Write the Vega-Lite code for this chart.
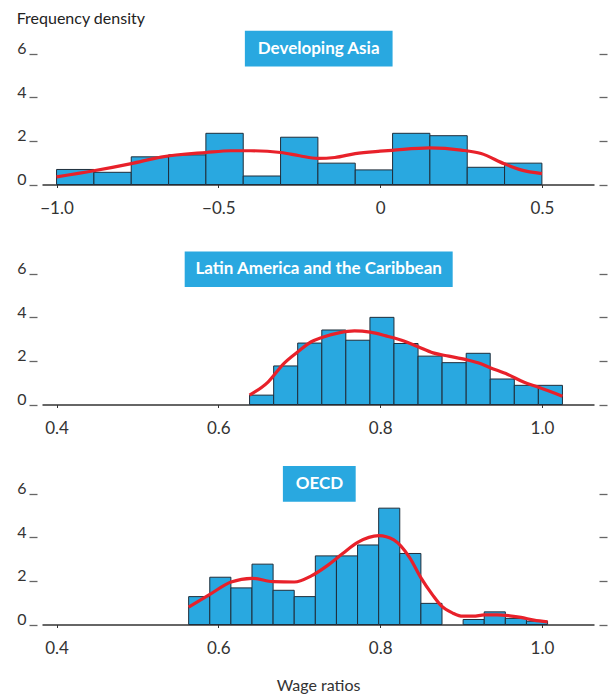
{
  "$schema": "https://vega.github.io/schema/vega-lite/v6.json",
  "background": "white",
  "padding": {"left": 16, "top": 10, "right": 10, "bottom": 0},
  "config": {
    "font": "Lato",
    "view": {"stroke": null},
    "axis": {"grid": false, "labelFont": "Lato", "titleFont": "Lato", "labelColor": "#333", "titleColor": "#333"}
  },
  "title": {"text": "Frequency density", "anchor": "start", "frame": "bounds", "fontSize": 16, "fontWeight": "normal", "color": "#222", "offset": 4},
  "spacing": 67,
  "bounds": "flush",
  "datasets": {
    "bars": [
      {"region": "Developing Asia", "bin_start": -1.0, "bin_end": -0.8846, "density": 0.69},
      {"region": "Developing Asia", "bin_start": -0.8846, "bin_end": -0.7692, "density": 0.56},
      {"region": "Developing Asia", "bin_start": -0.7692, "bin_end": -0.6538, "density": 1.27},
      {"region": "Developing Asia", "bin_start": -0.6538, "bin_end": -0.5385, "density": 1.36},
      {"region": "Developing Asia", "bin_start": -0.5385, "bin_end": -0.4231, "density": 2.35},
      {"region": "Developing Asia", "bin_start": -0.4231, "bin_end": -0.3077, "density": 0.39},
      {"region": "Developing Asia", "bin_start": -0.3077, "bin_end": -0.1923, "density": 2.17},
      {"region": "Developing Asia", "bin_start": -0.1923, "bin_end": -0.0769, "density": 0.98},
      {"region": "Developing Asia", "bin_start": -0.0769, "bin_end": 0.0385, "density": 0.67},
      {"region": "Developing Asia", "bin_start": 0.0385, "bin_end": 0.1538, "density": 2.35},
      {"region": "Developing Asia", "bin_start": 0.1538, "bin_end": 0.2692, "density": 2.24},
      {"region": "Developing Asia", "bin_start": 0.2692, "bin_end": 0.3846, "density": 0.79},
      {"region": "Developing Asia", "bin_start": 0.3846, "bin_end": 0.5, "density": 0.98},
      {"region": "Latin America and the Caribbean", "bin_start": 0.6386, "bin_end": 0.6684, "density": 0.43},
      {"region": "Latin America and the Caribbean", "bin_start": 0.6684, "bin_end": 0.6981, "density": 1.77},
      {"region": "Latin America and the Caribbean", "bin_start": 0.6981, "bin_end": 0.7279, "density": 2.82},
      {"region": "Latin America and the Caribbean", "bin_start": 0.7279, "bin_end": 0.7576, "density": 3.42},
      {"region": "Latin America and the Caribbean", "bin_start": 0.7576, "bin_end": 0.7874, "density": 2.95},
      {"region": "Latin America and the Caribbean", "bin_start": 0.7874, "bin_end": 0.8171, "density": 4.0},
      {"region": "Latin America and the Caribbean", "bin_start": 0.8171, "bin_end": 0.8469, "density": 2.8},
      {"region": "Latin America and the Caribbean", "bin_start": 0.8469, "bin_end": 0.8766, "density": 2.22},
      {"region": "Latin America and the Caribbean", "bin_start": 0.8766, "bin_end": 0.9064, "density": 1.92},
      {"region": "Latin America and the Caribbean", "bin_start": 0.9064, "bin_end": 0.9361, "density": 2.35},
      {"region": "Latin America and the Caribbean", "bin_start": 0.9361, "bin_end": 0.9659, "density": 1.17},
      {"region": "Latin America and the Caribbean", "bin_start": 0.9659, "bin_end": 0.9956, "density": 0.88},
      {"region": "Latin America and the Caribbean", "bin_start": 0.9956, "bin_end": 1.0254, "density": 0.88},
      {"region": "OECD", "bin_start": 0.5633, "bin_end": 0.5894, "density": 1.28},
      {"region": "OECD", "bin_start": 0.5894, "bin_end": 0.6155, "density": 2.17},
      {"region": "OECD", "bin_start": 0.6155, "bin_end": 0.6416, "density": 1.68},
      {"region": "OECD", "bin_start": 0.6416, "bin_end": 0.6677, "density": 2.77},
      {"region": "OECD", "bin_start": 0.6677, "bin_end": 0.6938, "density": 1.57},
      {"region": "OECD", "bin_start": 0.6938, "bin_end": 0.7199, "density": 1.28},
      {"region": "OECD", "bin_start": 0.7199, "bin_end": 0.746, "density": 3.15},
      {"region": "OECD", "bin_start": 0.746, "bin_end": 0.7721, "density": 3.15},
      {"region": "OECD", "bin_start": 0.7721, "bin_end": 0.7982, "density": 3.65},
      {"region": "OECD", "bin_start": 0.7982, "bin_end": 0.8243, "density": 5.34},
      {"region": "OECD", "bin_start": 0.8243, "bin_end": 0.8504, "density": 3.26},
      {"region": "OECD", "bin_start": 0.8504, "bin_end": 0.8765, "density": 0.97},
      {"region": "OECD", "bin_start": 0.9026, "bin_end": 0.9287, "density": 0.23},
      {"region": "OECD", "bin_start": 0.9287, "bin_end": 0.9548, "density": 0.58},
      {"region": "OECD", "bin_start": 0.9548, "bin_end": 0.9809, "density": 0.28},
      {"region": "OECD", "bin_start": 0.9809, "bin_end": 1.007, "density": 0.15}
    ],
    "curves": [
      {"region": "Developing Asia", "wage_ratio": -1.0, "density": 0.35},
      {"region": "Developing Asia", "wage_ratio": -0.885, "density": 0.63},
      {"region": "Developing Asia", "wage_ratio": -0.769, "density": 0.96},
      {"region": "Developing Asia", "wage_ratio": -0.677, "density": 1.26},
      {"region": "Developing Asia", "wage_ratio": -0.538, "density": 1.47},
      {"region": "Developing Asia", "wage_ratio": -0.461, "density": 1.55},
      {"region": "Developing Asia", "wage_ratio": -0.4, "density": 1.55},
      {"region": "Developing Asia", "wage_ratio": -0.307, "density": 1.47},
      {"region": "Developing Asia", "wage_ratio": -0.249, "density": 1.32},
      {"region": "Developing Asia", "wage_ratio": -0.193, "density": 1.2},
      {"region": "Developing Asia", "wage_ratio": -0.14, "density": 1.24},
      {"region": "Developing Asia", "wage_ratio": -0.077, "density": 1.42},
      {"region": "Developing Asia", "wage_ratio": 0.0, "density": 1.53},
      {"region": "Developing Asia", "wage_ratio": 0.037, "density": 1.57},
      {"region": "Developing Asia", "wage_ratio": 0.153, "density": 1.68},
      {"region": "Developing Asia", "wage_ratio": 0.25, "density": 1.58},
      {"region": "Developing Asia", "wage_ratio": 0.312, "density": 1.42},
      {"region": "Developing Asia", "wage_ratio": 0.384, "density": 0.95},
      {"region": "Developing Asia", "wage_ratio": 0.435, "density": 0.67},
      {"region": "Developing Asia", "wage_ratio": 0.5, "density": 0.5},
      {"region": "Latin America and the Caribbean", "wage_ratio": 0.6386, "density": 0.43},
      {"region": "Latin America and the Caribbean", "wage_ratio": 0.6614, "density": 1.03},
      {"region": "Latin America and the Caribbean", "wage_ratio": 0.6809, "density": 1.88},
      {"region": "Latin America and the Caribbean", "wage_ratio": 0.6983, "density": 2.42},
      {"region": "Latin America and the Caribbean", "wage_ratio": 0.7149, "density": 2.88},
      {"region": "Latin America and the Caribbean", "wage_ratio": 0.728, "density": 3.08},
      {"region": "Latin America and the Caribbean", "wage_ratio": 0.7489, "density": 3.29},
      {"region": "Latin America and the Caribbean", "wage_ratio": 0.7683, "density": 3.38},
      {"region": "Latin America and the Caribbean", "wage_ratio": 0.7878, "density": 3.32},
      {"region": "Latin America and the Caribbean", "wage_ratio": 0.8072, "density": 3.15},
      {"region": "Latin America and the Caribbean", "wage_ratio": 0.8266, "density": 2.95},
      {"region": "Latin America and the Caribbean", "wage_ratio": 0.847, "density": 2.65},
      {"region": "Latin America and the Caribbean", "wage_ratio": 0.8655, "density": 2.37},
      {"region": "Latin America and the Caribbean", "wage_ratio": 0.8849, "density": 2.22},
      {"region": "Latin America and the Caribbean", "wage_ratio": 0.9063, "density": 2.06},
      {"region": "Latin America and the Caribbean", "wage_ratio": 0.9238, "density": 1.88},
      {"region": "Latin America and the Caribbean", "wage_ratio": 0.936, "density": 1.69},
      {"region": "Latin America and the Caribbean", "wage_ratio": 0.9578, "density": 1.38},
      {"region": "Latin America and the Caribbean", "wage_ratio": 0.9773, "density": 1.03},
      {"region": "Latin America and the Caribbean", "wage_ratio": 0.9952, "density": 0.8},
      {"region": "Latin America and the Caribbean", "wage_ratio": 1.0254, "density": 0.38},
      {"region": "OECD", "wage_ratio": 0.5633, "density": 0.8},
      {"region": "OECD", "wage_ratio": 0.5895, "density": 1.38},
      {"region": "OECD", "wage_ratio": 0.6157, "density": 1.95},
      {"region": "OECD", "wage_ratio": 0.6415, "density": 2.12},
      {"region": "OECD", "wage_ratio": 0.6677, "density": 1.97},
      {"region": "OECD", "wage_ratio": 0.694, "density": 1.95},
      {"region": "OECD", "wage_ratio": 0.7149, "density": 2.23},
      {"region": "OECD", "wage_ratio": 0.7343, "density": 2.69},
      {"region": "OECD", "wage_ratio": 0.7537, "density": 3.26},
      {"region": "OECD", "wage_ratio": 0.7722, "density": 3.77},
      {"region": "OECD", "wage_ratio": 0.7984, "density": 4.08},
      {"region": "OECD", "wage_ratio": 0.8169, "density": 3.88},
      {"region": "OECD", "wage_ratio": 0.8363, "density": 3.08},
      {"region": "OECD", "wage_ratio": 0.8505, "density": 2.14},
      {"region": "OECD", "wage_ratio": 0.865, "density": 1.35},
      {"region": "OECD", "wage_ratio": 0.876, "density": 0.84},
      {"region": "OECD", "wage_ratio": 0.89, "density": 0.52},
      {"region": "OECD", "wage_ratio": 0.902, "density": 0.38},
      {"region": "OECD", "wage_ratio": 0.915, "density": 0.38},
      {"region": "OECD", "wage_ratio": 0.929, "density": 0.44},
      {"region": "OECD", "wage_ratio": 0.945, "density": 0.44},
      {"region": "OECD", "wage_ratio": 0.96, "density": 0.4},
      {"region": "OECD", "wage_ratio": 0.974, "density": 0.33},
      {"region": "OECD", "wage_ratio": 0.99, "density": 0.2},
      {"region": "OECD", "wage_ratio": 1.007, "density": 0.12}
    ]
  },
  "vconcat": [
    {
      "width": 552,
      "height": 152.5,
      "resolve": {"axis": {"y": "independent"}},
      "layer": [
        {
          "data": {"name": "bars"},
          "transform": [{"filter": "datum.region === 'Developing Asia'"}],
          "mark": {"type": "rect", "color": "#29a8e0", "stroke": "#1f2d3a", "strokeWidth": 1},
          "encoding": {
            "x": {"field": "bin_start", "type": "quantitative", "title": null,
              "scale": {"domain": [-1.045, 0.661], "nice": false, "zero": false},
              "axis": {"values": [-1, -0.5, 0, 0.5], "labelExpr": "datum.value === 0 ? '0' : format(datum.value, '.1f')", "domainColor": "#333", "domainWidth": 1.5, "tickSize": 3, "tickColor": "#333", "labelFontSize": 17, "labelPadding": 13, "labelFlush": false, "title": null}},
            "x2": {"field": "bin_end"},
            "y": {"field": "density", "type": "quantitative", "title": null,
              "scale": {"domain": [0, 7], "nice": false},
              "axis": {"orient": "left", "values": [0, 2, 4, 6], "format": "d", "domain": false, "offset": 5, "tickSize": 8, "tickColor": "#666", "tickWidth": 1.3, "labelFontSize": 16, "labelBaseline": "alphabetic", "labelPadding": 3, "title": null}},
            "y2": {"datum": 0}
          }
        },
        {
          "data": {"name": "curves"},
          "transform": [{"filter": "datum.region === 'Developing Asia'"}],
          "mark": {"type": "line", "color": "#e8212a", "strokeWidth": 3.2, "interpolate": "monotone"},
          "encoding": {
            "x": {"field": "wage_ratio", "type": "quantitative", "title": null, "scale": {"domain": [-1.045, 0.661], "nice": false, "zero": false}},
            "y": {"field": "density", "type": "quantitative", "title": null,
              "scale": {"domain": [0, 7], "nice": false},
              "axis": {"orient": "right", "values": [0, 2, 4, 6], "labels": false, "domain": false, "offset": 5, "tickSize": 8, "tickColor": "#666", "tickWidth": 1.3, "title": null}}
          }
        },
        {
          "data": {"values": [{"region": "Developing Asia"}]},
          "mark": {"type": "rect", "color": "#29a8e0"},
          "encoding": {
            "x": {"datum": -0.418, "type": "quantitative", "title": null},
            "x2": {"datum": 0.0385},
            "y": {"datum": 7.06, "type": "quantitative", "axis": null},
            "y2": {"datum": 5.42}
          }
        },
        {
          "data": {"values": [{"region": "Developing Asia"}]},
          "mark": {"type": "text", "color": "white", "fontSize": 17, "fontWeight": "bold", "align": "center", "baseline": "middle"},
          "encoding": {
            "text": {"field": "region"},
            "x": {"datum": -0.19, "type": "quantitative", "title": null},
            "y": {"datum": 6.24, "type": "quantitative", "axis": null}
          }
        }
      ]
    },
    {
      "width": 552,
      "height": 152.5,
      "resolve": {"axis": {"y": "independent"}},
      "layer": [
        {
          "data": {"name": "bars"},
          "transform": [{"filter": "datum.region === 'Latin America and the Caribbean'"}],
          "mark": {"type": "rect", "color": "#29a8e0", "stroke": "#1f2d3a", "strokeWidth": 1},
          "encoding": {
            "x": {"field": "bin_start", "type": "quantitative", "title": null,
              "scale": {"domain": [0.382, 1.0644], "nice": false, "zero": false},
              "axis": {"values": [0.4, 0.6, 0.8, 1.0], "format": ".1f", "domainColor": "#333", "domainWidth": 1.5, "tickSize": 3, "tickColor": "#333", "labelFontSize": 17, "labelPadding": 13, "labelFlush": false, "title": null}},
            "x2": {"field": "bin_end"},
            "y": {"field": "density", "type": "quantitative", "title": null,
              "scale": {"domain": [0, 7], "nice": false},
              "axis": {"orient": "left", "values": [0, 2, 4, 6], "format": "d", "domain": false, "offset": 5, "tickSize": 8, "tickColor": "#666", "tickWidth": 1.3, "labelFontSize": 16, "labelBaseline": "alphabetic", "labelPadding": 3, "title": null}},
            "y2": {"datum": 0}
          }
        },
        {
          "data": {"name": "curves"},
          "transform": [{"filter": "datum.region === 'Latin America and the Caribbean'"}],
          "mark": {"type": "line", "color": "#e8212a", "strokeWidth": 3.2, "interpolate": "monotone"},
          "encoding": {
            "x": {"field": "wage_ratio", "type": "quantitative", "title": null, "scale": {"domain": [0.382, 1.0644], "nice": false, "zero": false}},
            "y": {"field": "density", "type": "quantitative", "title": null,
              "scale": {"domain": [0, 7], "nice": false},
              "axis": {"orient": "right", "values": [0, 2, 4, 6], "labels": false, "domain": false, "offset": 5, "tickSize": 8, "tickColor": "#666", "tickWidth": 1.3, "title": null}}
          }
        },
        {
          "data": {"values": [{"region": "Latin America and the Caribbean"}]},
          "mark": {"type": "rect", "color": "#29a8e0"},
          "encoding": {
            "x": {"datum": 0.5584, "type": "quantitative", "title": null},
            "x2": {"datum": 0.8897},
            "y": {"datum": 7.02, "type": "quantitative", "axis": null},
            "y2": {"datum": 5.39}
          }
        },
        {
          "data": {"values": [{"region": "Latin America and the Caribbean"}]},
          "mark": {"type": "text", "color": "white", "fontSize": 17, "fontWeight": "bold", "align": "center", "baseline": "middle"},
          "encoding": {
            "text": {"field": "region"},
            "x": {"datum": 0.724, "type": "quantitative", "title": null},
            "y": {"datum": 6.21, "type": "quantitative", "axis": null}
          }
        }
      ]
    },
    {
      "width": 552,
      "height": 152.5,
      "resolve": {"axis": {"y": "independent"}},
      "layer": [
        {
          "data": {"name": "bars"},
          "transform": [{"filter": "datum.region === 'OECD'"}],
          "mark": {"type": "rect", "color": "#29a8e0", "stroke": "#1f2d3a", "strokeWidth": 1},
          "encoding": {
            "x": {"field": "bin_start", "type": "quantitative", "title": "Wage ratios",
              "scale": {"domain": [0.382, 1.0644], "nice": false, "zero": false},
              "axis": {"values": [0.4, 0.6, 0.8, 1.0], "format": ".1f", "domainColor": "#333", "domainWidth": 1.5, "tickSize": 3, "tickColor": "#333", "labelFontSize": 17, "labelPadding": 13, "labelFlush": false, "title": "Wage ratios", "titleFontSize": 16, "titleFontWeight": "normal", "titlePadding": 21}},
            "x2": {"field": "bin_end"},
            "y": {"field": "density", "type": "quantitative", "title": null,
              "scale": {"domain": [0, 7], "nice": false},
              "axis": {"orient": "left", "values": [0, 2, 4, 6], "format": "d", "domain": false, "offset": 5, "tickSize": 8, "tickColor": "#666", "tickWidth": 1.3, "labelFontSize": 16, "labelBaseline": "alphabetic", "labelPadding": 3, "title": null}},
            "y2": {"datum": 0}
          }
        },
        {
          "data": {"name": "curves"},
          "transform": [{"filter": "datum.region === 'OECD'"}],
          "mark": {"type": "line", "color": "#e8212a", "strokeWidth": 3.2, "interpolate": "monotone"},
          "encoding": {
            "x": {"field": "wage_ratio", "type": "quantitative", "title": "Wage ratios", "scale": {"domain": [0.382, 1.0644], "nice": false, "zero": false}},
            "y": {"field": "density", "type": "quantitative", "title": null,
              "scale": {"domain": [0, 7], "nice": false},
              "axis": {"orient": "right", "values": [0, 2, 4, 6], "labels": false, "domain": false, "offset": 5, "tickSize": 8, "tickColor": "#666", "tickWidth": 1.3, "title": null}}
          }
        },
        {
          "data": {"values": [{"region": "OECD"}]},
          "mark": {"type": "rect", "color": "#29a8e0"},
          "encoding": {
            "x": {"datum": 0.6798, "type": "quantitative", "title": "Wage ratios"},
            "x2": {"datum": 0.7698},
            "y": {"datum": 7.27, "type": "quantitative", "axis": null},
            "y2": {"datum": 5.63}
          }
        },
        {
          "data": {"values": [{"region": "OECD"}]},
          "mark": {"type": "text", "color": "white", "fontSize": 17, "fontWeight": "bold", "align": "center", "baseline": "middle"},
          "encoding": {
            "text": {"field": "region"},
            "x": {"datum": 0.725, "type": "quantitative", "title": "Wage ratios"},
            "y": {"datum": 6.45, "type": "quantitative", "axis": null}
          }
        }
      ]
    }
  ]
}
